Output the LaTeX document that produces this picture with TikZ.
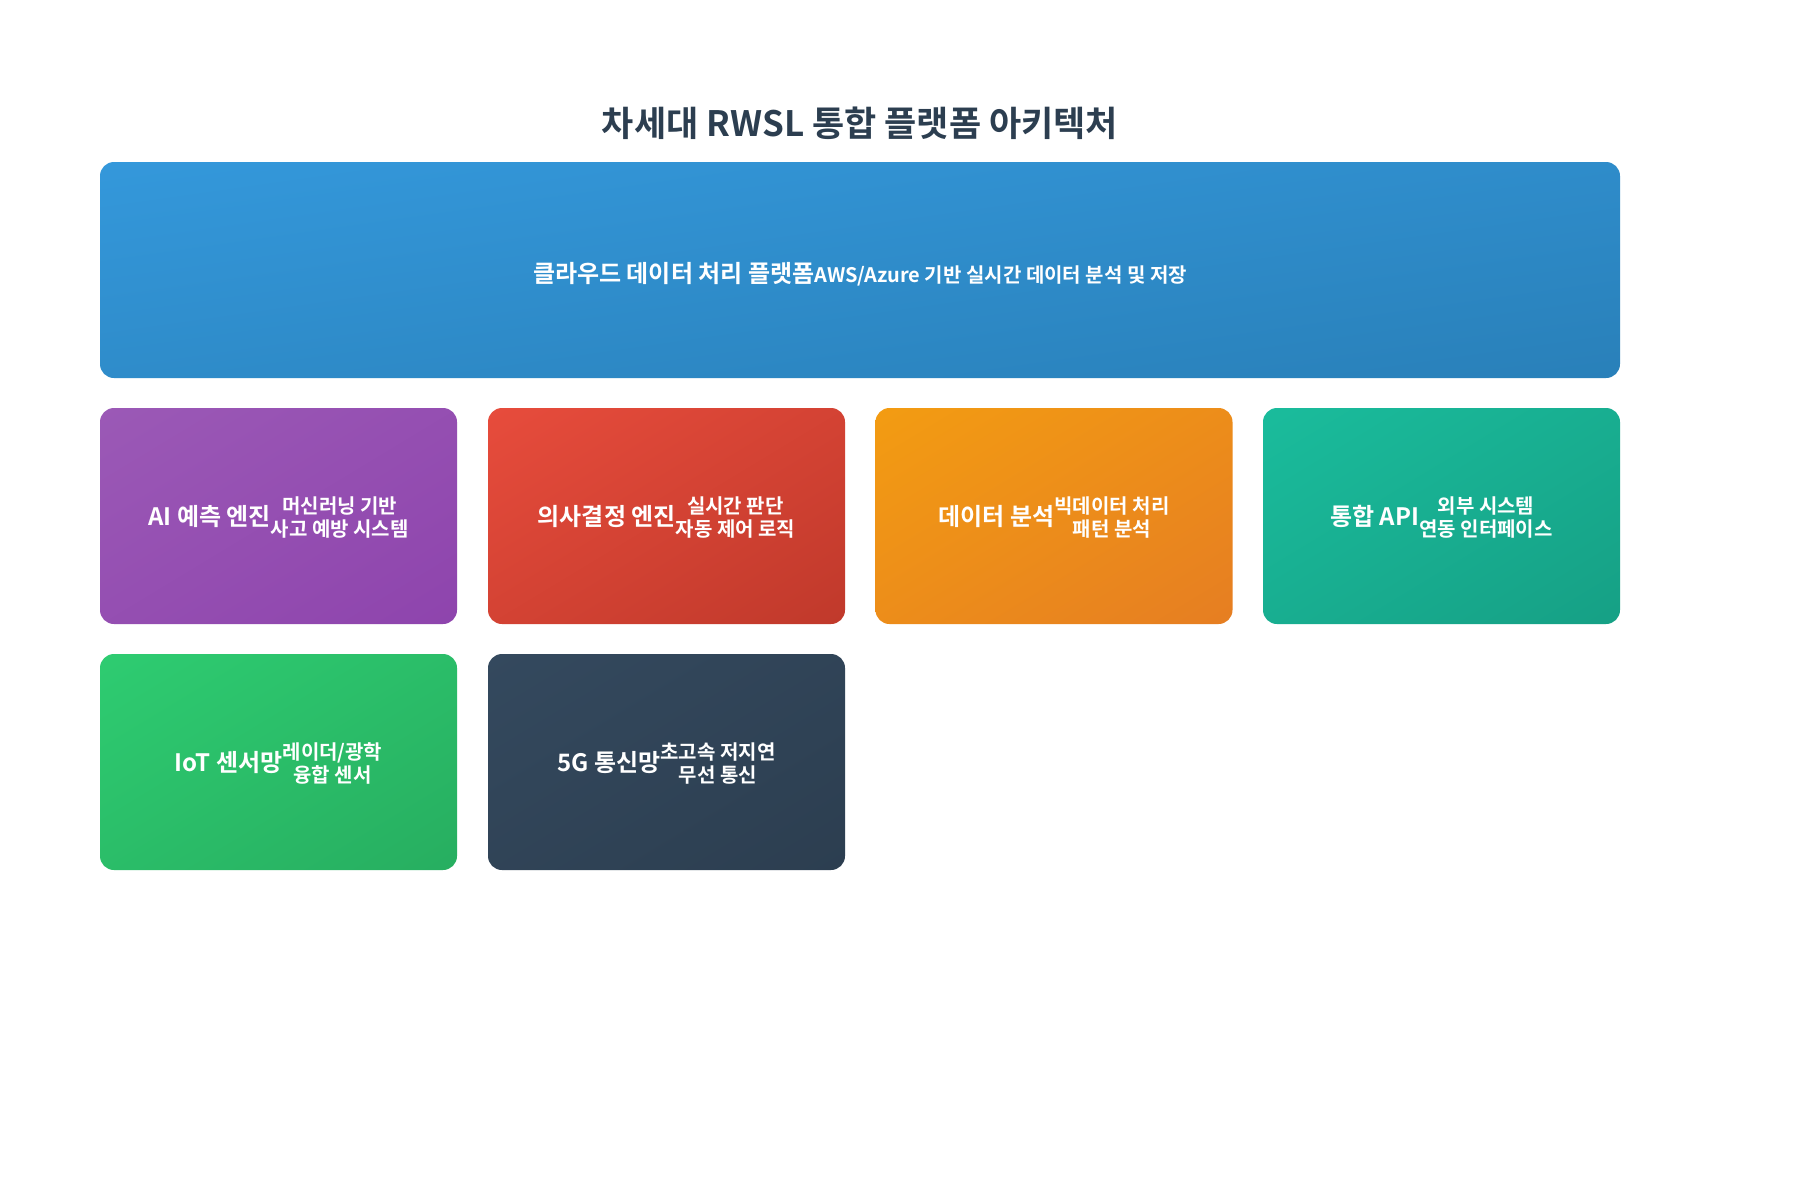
\documentclass[tikz,border=0pt]{standalone}
\usepackage{fontspec}
\usetikzlibrary{shadings}
\setmainfont{Noto Sans CJK KR}[BoldFont={Noto Sans CJK KR Bold}]
\definecolor{titlec}{HTML}{2C3E50}
\definecolor{bluea}{HTML}{3498DB}\definecolor{blueb}{HTML}{2980B9}
\definecolor{purpa}{HTML}{9B59B6}\definecolor{purpb}{HTML}{8E44AD}
\definecolor{reda}{HTML}{E74C3C}\definecolor{redb}{HTML}{C0392B}
\definecolor{orga}{HTML}{F39C12}\definecolor{orgb}{HTML}{E67E22}
\definecolor{teala}{HTML}{1ABC9C}\definecolor{tealb}{HTML}{16A085}
\definecolor{grna}{HTML}{2ECC71}\definecolor{grnb}{HTML}{27AE60}
\definecolor{darka}{HTML}{34495E}\definecolor{darkb}{HTML}{2C3E50}
\newcommand{\mfont}{\bfseries\fontsize{24}{28}\selectfont}
\newcommand{\sfontx}{\bfseries\fontsize{20}{23}\selectfont}
\newcommand{\cardtext}[3]{{\mfont #1}{\sfontx\begin{tabular}{@{}c@{}}#2\\#3\end{tabular}}}
\tikzset{
  cardbox/.style n args={2}{rectangle, rounded corners=14pt, inner sep=0pt,
    minimum width=357pt, minimum height=216pt, text=white, align=center,
    shade, upper left=#1, lower right=#2, upper right=#1!50!#2, lower left=#1!50!#2},
  cardtxt/.style={text=white, inner sep=0pt}
}
\begin{document}
\begin{tikzpicture}[x=1pt,y=-1pt]
\useasboundingbox[fill=white] (0,0) rectangle (1800,1200);
\node[text=titlec, font=\bfseries\fontsize{35}{40}\selectfont] (title) at (860,123) {차세대 RWSL 통합 플랫폼 아키텍처};
\node[cardbox={bluea}{blueb}, minimum width=1520pt] (cloud) at (860,270) {};
\node[cardtxt] (cloudt) at (860,274) {{\mfont 클라우드 데이터 처리 플랫폼}{\sfontx AWS/Azure 기반 실시간 데이터 분석 및 저장}};
\node[cardbox={purpa}{purpb}] (ai) at (278.5,516) {};
\node[cardtxt] (ait) at (278.5,520) {\cardtext{AI 예측 엔진}{머신러닝 기반}{사고 예방 시스템}};
\node[cardbox={reda}{redb}] (dec) at (666.5,516) {};
\node[cardtxt] (dect) at (666.5,520) {\cardtext{의사결정 엔진}{실시간 판단}{자동 제어 로직}};
\node[cardbox={orga}{orgb}] (ana) at (1054,516) {};
\node[cardtxt] (anat) at (1054,520) {\cardtext{데이터 분석}{빅데이터 처리}{패턴 분석}};
\node[cardbox={teala}{tealb}] (api) at (1441.5,516) {};
\node[cardtxt] (apit) at (1441.5,520) {\cardtext{통합 API}{외부 시스템}{연동 인터페이스}};
\node[cardbox={grna}{grnb}] (iot) at (278.5,762) {};
\node[cardtxt] (iott) at (278.5,766) {\cardtext{IoT 센서망}{레이더/광학}{융합 센서}};
\node[cardbox={darka}{darkb}] (net) at (666.5,762) {};
\node[cardtxt] (nett) at (666.5,766) {\cardtext{5G 통신망}{초고속 저지연}{무선 통신}};
\end{tikzpicture}
\end{document}
